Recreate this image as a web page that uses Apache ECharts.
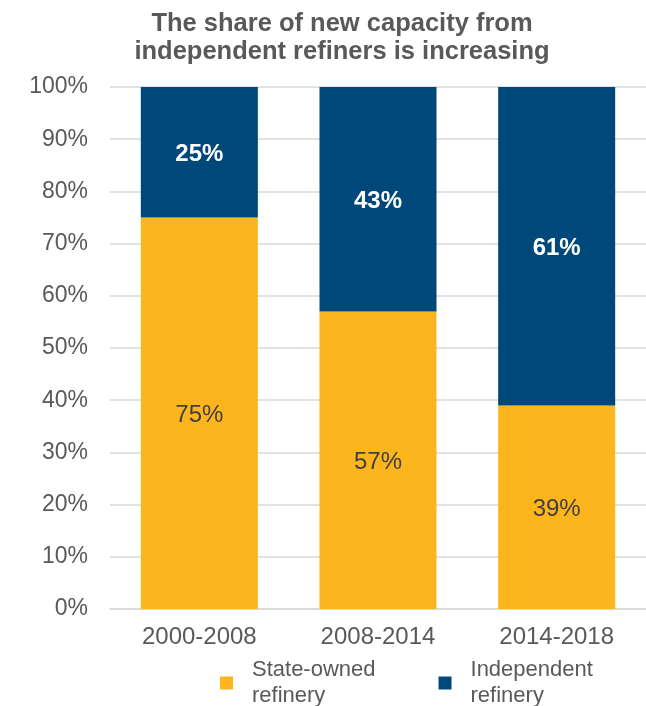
<!DOCTYPE html>
<html>
<head>
<meta charset="utf-8">
<script src="https://cdn.jsdelivr.net/npm/echarts@6/dist/echarts.min.js"></script>
<style>
  html, body { margin: 0; padding: 0; background: #fff; }
  #chart { width: 646px; height: 706px; }
</style>
</head>
<body>
<div id="chart"></div>
<script>
// Periods of new refining capacity
const periods = ['2000-2008', '2008-2014', '2014-2018'];
// Share of new capacity, percent
const stateOwned = [75, 57, 39];
const independent = [25, 43, 61];
// Value axis ticks
const yMin = 0, yMax = 100, yStep = 10;

const chart = echarts.init(document.getElementById('chart'), null, { renderer: 'canvas' });
const FONT = '"Liberation Sans", Arial, sans-serif';

chart.setOption({
  animation: false,
  backgroundColor: '#ffffff',
  title: {
    text: 'The share of new capacity from\nindependent refiners is increasing',
    left: 337,
    top: 5,
    textAlign: 'center',
    textStyle: {
      fontFamily: FONT,
      fontSize: 25.5,
      fontWeight: 'bold',
      color: '#595959',
      lineHeight: 28
    }
  },
  grid: { left: 110, right: 0, top: 87, bottom: 97, containLabel: false },
  legend: {
    left: 215,
    top: 652,
    icon: 'rect',
    itemWidth: 13,
    itemHeight: 13,
    itemGap: 63,
    textStyle: {
      fontFamily: FONT,
      fontSize: 22,
      color: '#595959',
      lineHeight: 26,
      padding: [0, 0, 0, 14]
    },
    data: ['State-owned\nrefinery', 'Independent\nrefinery']
  },
  xAxis: {
    type: 'category',
    data: periods,
    axisLine: { show: true, lineStyle: { color: '#D9D9D9', width: 1.5 } },
    axisTick: { show: false },
    axisLabel: { fontFamily: FONT, fontSize: 24, color: '#595959', margin: 16 }
  },
  yAxis: {
    type: 'value',
    min: yMin,
    max: yMax,
    interval: yStep,
    axisLine: { show: false },
    axisTick: { show: false },
    splitLine: { lineStyle: { color: '#D9D9D9', width: 1.5 } },
    axisLabel: {
      fontFamily: FONT, fontSize: 23, color: '#595959', margin: 22,
      formatter: '{value}%'
    }
  },
  series: [
    {
      name: 'State-owned\nrefinery',
      type: 'bar',
      stack: 'share',
      barWidth: '65.5%',
      data: stateOwned,
      itemStyle: { color: '#FDB51E' },
      label: {
        show: true, position: 'inside', formatter: '{c}%', offset: [0, 2],
        fontFamily: FONT, fontSize: 24, color: '#404040'
      }
    },
    {
      name: 'Independent\nrefinery',
      type: 'bar',
      stack: 'share',
      barWidth: '65.5%',
      data: independent,
      itemStyle: { color: '#00487A' },
      label: {
        show: true, position: 'inside', formatter: '{c}%', offset: [0, 2],
        fontFamily: FONT, fontSize: 24, fontWeight: 'bold', color: '#ffffff'
      }
    }
  ]
});
</script>
</body>
</html>
